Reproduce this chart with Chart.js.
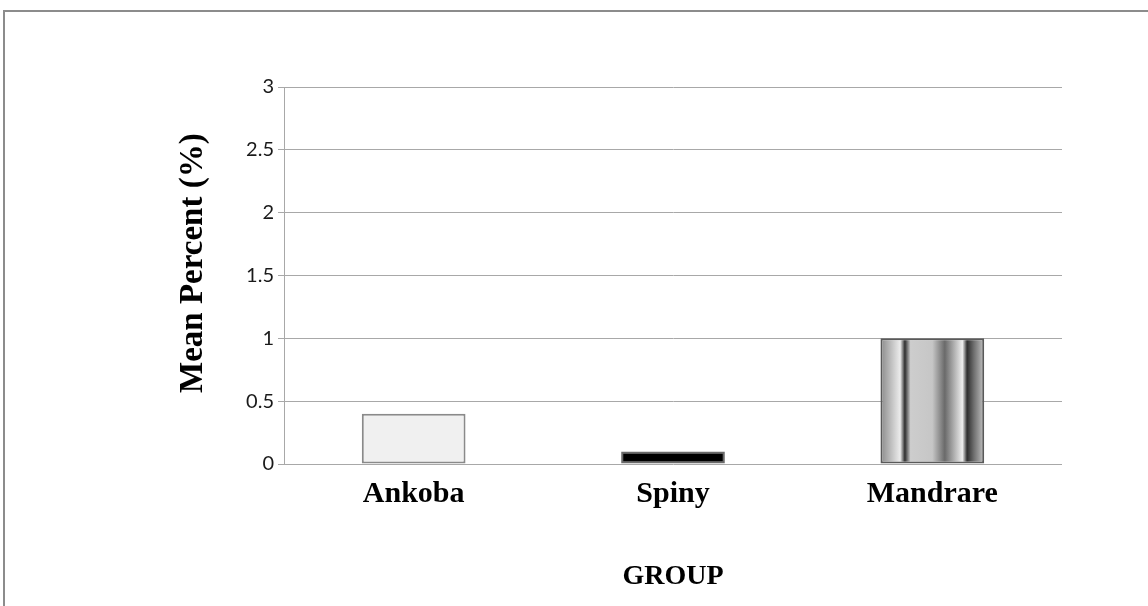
<!DOCTYPE html>
<html>
<head>
<meta charset="utf-8">
<title>Mean Percent by Group</title>
<script src="https://cdn.jsdelivr.net/npm/chart.js@4/dist/chart.umd.min.js"></script>
<style>
  html, body { margin: 0; padding: 0; background: #ffffff; }
  body { width: 1148px; height: 606px; position: relative; overflow: hidden; }
  .frame {
    position: absolute; left: 3px; top: 10px; width: 1200px; height: 700px;
    border-top: 2px solid #8c8c8c; border-left: 2px solid #8c8c8c;
    box-sizing: border-box;
  }
  #wrap { position: absolute; left: 0; top: 0; width: 1148px; height: 606px; }
</style>
</head>
<body>
<div class="frame"></div>
<div id="wrap"><canvas id="chart" width="1148" height="606"></canvas></div>
<script>
// Groups along the x axis
const groups = ['Ankoba', 'Spiny', 'Mandrare'];
// Mean percent for each group
const meanPercent = [0.4, 0.1, 1.0];
// Value axis range and step
const yMin = 0;
const yMax = 3;
const yStep = 0.5;

const barShare = 0.4;
const solidFills = ['#f0f0f0', '#000000', null];
const barBorders = ['#8a8a8a', '#6a6a6a', '#5a5a5a'];

// Vertical banded grey shading for the third bar
function bandedFill(c) {
  const chart = c.chart;
  const xs = chart.scales.x;
  if (!chart.chartArea || !xs) return '#aaaaaa';
  const center = xs.getPixelForValue(c.dataIndex);
  const half = (xs.width / groups.length) * barShare / 2;
  const g = chart.ctx.createLinearGradient(center - half, 0, center + half, 0);
  g.addColorStop(0.00, '#8a8a8a');
  g.addColorStop(0.19, '#ececec');
  g.addColorStop(0.235, '#2e2e2e');
  g.addColorStop(0.29, '#cdcdcd');
  g.addColorStop(0.50, '#c6c6c6');
  g.addColorStop(0.62, '#6a6a6a');
  g.addColorStop(0.79, '#eeeeee');
  g.addColorStop(0.835, '#2e2e2e');
  g.addColorStop(0.90, '#6e6e6e');
  g.addColorStop(1.00, '#c4c4c4');
  return g;
}

new Chart(document.getElementById('chart'), {
  type: 'bar',
  data: {
    labels: groups,
    datasets: [{
      data: meanPercent,
      backgroundColor: (c) => c.dataIndex === 2 ? bandedFill(c) : solidFills[c.dataIndex],
      borderColor: (c) => barBorders[c.dataIndex],
      borderWidth: 2,
      borderSkipped: false,
      categoryPercentage: 1.0,
      barPercentage: barShare
    }]
  },
  options: {
    responsive: false,
    animation: false,
    devicePixelRatio: 1,
    layout: { padding: { top: 87, right: 86, bottom: 0, left: 160 } },
    plugins: {
      legend: { display: false },
      tooltip: { enabled: false }
    },
    scales: {
      x: {
        grid: { display: false, drawTicks: false },
        border: { display: false },
        ticks: {
          padding: 12,
          color: '#000000',
          font: { family: '"Liberation Serif", "Times New Roman", serif', size: 30, weight: 'bold' }
        },
        title: {
          display: true,
          text: 'GROUP',
          color: '#000000',
          padding: { top: 0, bottom: 12 },
          font: { family: '"Liberation Serif", "Times New Roman", serif', size: 28, weight: 'bold' }
        },
        afterFit: (s) => { s.height = 142; }
      },
      y: {
        min: yMin,
        max: yMax,
        grid: { color: '#a8a8a8', lineWidth: 1, drawTicks: true, tickLength: 6 },
        border: { display: true, color: '#a8a8a8', width: 1 },
        ticks: {
          stepSize: yStep,
          padding: 4,
          color: '#1a1a1a',
          font: { family: 'Lato, "Open Sans", sans-serif', size: 20 },
          callback: (v) => String(v)
        },
        title: {
          display: true,
          text: '   Mean Percent (%)',
          color: '#000000',
          padding: { top: 14, bottom: 0 },
          font: { family: '"Liberation Serif", "Times New Roman", serif', size: 33, weight: 'bold' }
        },
        afterFit: (s) => { s.width = 124; }
      }
    }
  }
});
</script>
</body>
</html>
